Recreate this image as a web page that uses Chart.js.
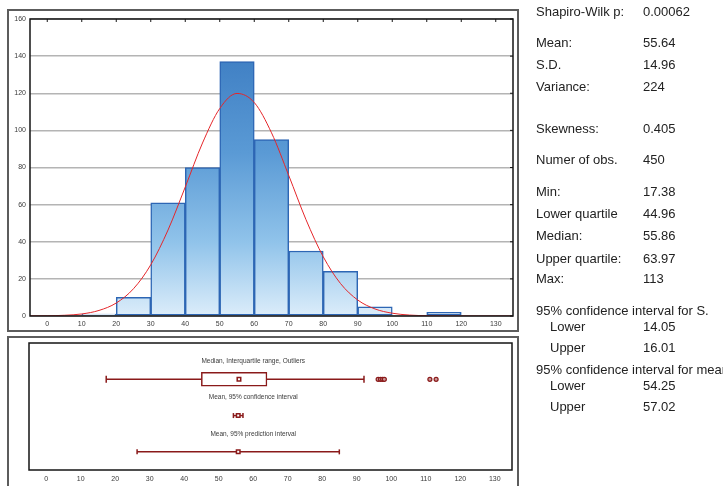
<!DOCTYPE html>
<html>
<head>
<meta charset="utf-8">
<title>Distribution summary</title>
<script src="https://cdn.jsdelivr.net/npm/chart.js@4.4.1/dist/chart.umd.min.js"></script>
<style>
  html, body { margin: 0; padding: 0; background: #fff; width: 723px; height: 486px; overflow: hidden; }
  .frame { position: absolute; border: 2px solid #5c5c5c; box-sizing: border-box; }
  #histFrame { left: 7px; top: 9px; width: 512px; height: 323px; }
  #boxFrame { left: 7px; top: 336px; width: 512px; height: 170px; }
  #histWrap { position: absolute; left: 0; top: 0; width: 520px; height: 334px; }
  #boxWrap { position: absolute; left: 0; top: 336px; width: 520px; height: 150px; }
  #stats { position: absolute; left: 0; top: 0; width: 723px; height: 486px;
           font-family: "Liberation Sans", Arial, sans-serif; font-size: 13px; color: #222; }
  #stats div { position: absolute; white-space: nowrap; line-height: 14px; }
</style>
</head>
<body>
<div class="frame" id="histFrame"></div>
<div class="frame" id="boxFrame"></div>
<div id="histWrap"><canvas id="hist"></canvas></div>
<div id="boxWrap"><canvas id="box"></canvas></div>
<div id="stats"></div>

<script>
// ---- data ----
const binStarts = [10, 20, 30, 40, 50, 60, 70, 80, 90, 100, 110];
const binCounts = [1, 10, 61, 80, 137, 95, 35, 24, 5, 0, 2];
const binWidth = 10;

// fitted normal curve, read every 5 units
const curveX = [-5, 0, 5, 10, 15, 20, 25, 30, 35, 40, 45, 50, 55, 60, 65, 70,
                75, 80, 85, 90, 95, 100, 105, 110, 115, 120, 125, 130, 135];
const curveY = [0.03, 0.12, 0.39, 1.1, 3.0, 7.0, 14.7, 27.6, 46.3, 69.5, 93.2, 111.8, 119.9, 115.0, 98.7, 75.7,
                51.9, 31.9, 17.5, 8.6, 3.8, 1.5, 0.5, 0.16, 0.04, 0.01, 0, 0, 0];

const xTicks = [0, 10, 20, 30, 40, 50, 60, 70, 80, 90, 100, 110, 120, 130];
const histYTicks = [0, 20, 40, 60, 80, 100, 120, 140, 160];

// box plot rows
const boxQ1 = 44.96, boxMedian = 55.86, boxQ3 = 63.97;
const whiskerLow = 17.38, whiskerHigh = 92.1;
const outliers = [96.2, 96.9, 97.5, 98.0, 111.2, 113];
const meanValue = 55.64;
const meanCI = [54.25, 57.02];
const predInterval = [26.33, 84.95];
const rowLabels = ["Median, Interquartile range, Outliers", "Mean, 95% confidence interval", "Mean, 95% prediction interval"];

// summary table
const statLabels = ["Shapiro-Wilk p:", "Mean:", "S.D.", "Variance:", "Skewness:", "Numer of obs.",
                    "Min:", "Lower quartile", "Median:", "Upper quartile:", "Max:",
                    "95% confidence interval for S.", "Lower", "Upper",
                    "95% confidence interval for mean", "Lower", "Upper"];
const statValues = ["0.00062", "55.64", "14.96", "224", "0.405", "450",
                    "17.38", "44.96", "55.86", "63.97", "113",
                    "", "14.05", "16.01",
                    "", "54.25", "57.02"];

// ---- layout ----
const statRowY = [12, 43, 65, 87, 129, 160, 192, 214, 236, 259, 279, 311, 327, 348, 370, 386, 407];
const statIndent = [0, 0, 0, 0, 0, 0, 0, 0, 0, 0, 0, 0, 1, 1, 0, 1, 1];
const rowY = [2, 4, 6];        // box, CI, PI rows on the 0..7 band axis
const rowTextY = [1, 3, 5];
const rowTextX = 60;

const darkRed = "#8a1a1a";
Chart.defaults.font.family = '"Liberation Sans", Arial, sans-serif';
Chart.defaults.color = "#3a3a3a";
Chart.defaults.animation = false;

// stats panel
const stats = document.getElementById("stats");
statLabels.forEach((lab, i) => {
  const l = document.createElement("div");
  l.textContent = lab;
  l.style.left = (statIndent[i] ? 550 : 536) + "px";
  l.style.top = (statRowY[i] - 7) + "px";
  stats.appendChild(l);
  if (statValues[i]) {
    const v = document.createElement("div");
    v.textContent = statValues[i];
    v.style.left = "643px";
    v.style.top = (statRowY[i] - 7) + "px";
    stats.appendChild(v);
  }
});

function fixTicks(values) {
  return (scale) => { scale.ticks = values.map((v) => ({ value: v })); };
}

// border around plot area + inner ticks on top/right edges
const plotFrame = {
  id: "plotFrame",
  afterDatasetsDraw(chart, args, opts) {
    const { ctx, chartArea: a, scales } = chart;
    ctx.save();
    ctx.strokeStyle = "#151515";
    ctx.lineWidth = 1.5;
    ctx.strokeRect(a.left, a.top, a.right - a.left, a.bottom - a.top);
    if (opts.innerTicks) {
      ctx.lineWidth = 1;
      ctx.beginPath();
      scales.x.ticks.forEach((t) => {
        const px = scales.x.getPixelForValue(t.value);
        ctx.moveTo(px, a.top);
        ctx.lineTo(px, a.top + 3);
      });
      scales.y.ticks.forEach((t) => {
        const py = scales.y.getPixelForValue(t.value);
        ctx.moveTo(a.right, py);
        ctx.lineTo(a.right - 3, py);
      });
      ctx.stroke();
    }
    ctx.restore();
  }
};

// ========== HISTOGRAM ==========
const barData = binStarts
  .map((s, i) => ({ x: s + binWidth / 2, y: binCounts[i] }))
  .filter((d) => d.y > 0);

new Chart(document.getElementById("hist"), {
  type: "bar",
  data: {
    datasets: [
      {
        type: "line",
        data: curveX.map((x, i) => ({ x, y: curveY[i] })),
        borderColor: "#e5262a",
        borderWidth: 1,
        pointRadius: 0,
        cubicInterpolationMode: "monotone",
        order: 0,
      },
      {
        type: "bar",
        data: barData,
        backgroundColor: (c) => {
          const area = c.chart.chartArea;
          if (!area) return "#6fa8dc";
          const g = c.chart.ctx.createLinearGradient(0, area.top, 0, area.bottom);
          g.addColorStop(0, "#3575bd");
          g.addColorStop(0.45, "#5a9ad5");
          g.addColorStop(0.75, "#90c3ea");
          g.addColorStop(1, "#dcedfa");
          return g;
        },
        borderColor: "#2d66b4",
        borderWidth: 1.5,
        borderSkipped: false,
        barPercentage: 1,
        categoryPercentage: 1,
        order: 1,
      },
    ],
  },
  options: {
    responsive: true,
    maintainAspectRatio: false,
    layout: { padding: { top: 19, right: 7, left: 0, bottom: 0 } },
    plugins: { legend: { display: false }, tooltip: { enabled: false }, plotFrame: { innerTicks: true } },
    scales: {
      x: {
        type: "linear",
        min: -5,
        max: 135,
        offset: false,
        afterBuildTicks: fixTicks(xTicks),
        afterFit: (s) => { s.height = 18; },
        grid: { display: false, drawTicks: false, offset: false },
        border: { display: false },
        ticks: { font: { size: 7 }, padding: 4, maxRotation: 0 },
      },
      y: {
        min: 0,
        max: 160,
        afterBuildTicks: fixTicks(histYTicks),
        afterFit: (s) => { s.width = 30; },
        grid: { color: "#b4b4b4", lineWidth: 1.5, drawTicks: false },
        border: { display: false },
        ticks: { font: { size: 7 }, padding: 4 },
      },
    },
  },
  plugins: [plotFrame],
});

// ========== BOX PLOT PANEL ==========
const rowText = {
  id: "rowText",
  afterDatasetsDraw(chart) {
    const { ctx, scales } = chart;
    ctx.save();
    ctx.font = '6.5px "Liberation Sans", Arial, sans-serif';
    ctx.fillStyle = "#3a3a3a";
    ctx.textAlign = "center";
    ctx.textBaseline = "middle";
    rowLabels.forEach((t, i) => {
      ctx.fillText(t, scales.x.getPixelForValue(rowTextX), scales.y.getPixelForValue(rowTextY[i]));
    });
    ctx.restore();
  }
};

const lineStyle = {
  type: "line",
  borderColor: darkRed,
  borderWidth: 1.5,
  pointStyle: "line",
  rotation: 90,
  pointBorderColor: darkRed,
  pointBorderWidth: 1.5,
  order: 1,
};
const markerStyle = {
  type: "line",
  showLine: false,
  pointStyle: "rect",
  pointRadius: 2.5,
  pointBackgroundColor: "#fff",
  pointBorderColor: darkRed,
  pointBorderWidth: 1.5,
  order: 0,
};

new Chart(document.getElementById("box"), {
  type: "line",
  data: {
    datasets: [
      {
        type: "bar",
        indexAxis: "y",
        data: [{ x: [boxQ1, boxQ3], y: rowY[0] }],
        backgroundColor: "#fff",
        borderColor: darkRed,
        borderWidth: 1.5,
        borderSkipped: false,
        barThickness: 14,
        order: 2,
      },
      { ...lineStyle, data: [{ x: whiskerLow, y: rowY[0] }, { x: boxQ1, y: rowY[0] }], pointRadius: [3.5, 0] },
      { ...lineStyle, data: [{ x: boxQ3, y: rowY[0] }, { x: whiskerHigh, y: rowY[0] }], pointRadius: [0, 3.5] },
      { ...markerStyle, data: [{ x: boxMedian, y: rowY[0] }] },
      {
        ...markerStyle,
        data: outliers.map((v) => ({ x: v, y: rowY[0] })),
        pointStyle: "circle",
        pointRadius: 2,
        pointBackgroundColor: "#c99",
        pointBorderWidth: 1.2,
      },
      { ...lineStyle, data: meanCI.map((v) => ({ x: v, y: rowY[1] })), pointRadius: 2.5 },
      { ...markerStyle, data: [{ x: meanValue, y: rowY[1] }] },
      { ...lineStyle, data: predInterval.map((v) => ({ x: v, y: rowY[2] })), pointRadius: 2.5 },
      { ...markerStyle, data: [{ x: meanValue, y: rowY[2] }] },
    ],
  },
  options: {
    responsive: true,
    maintainAspectRatio: false,
    layout: { padding: { top: 7, right: 8, left: 29, bottom: 0 } },
    plugins: { legend: { display: false }, tooltip: { enabled: false }, plotFrame: { innerTicks: false } },
    scales: {
      x: {
        type: "linear",
        min: -5,
        max: 135,
        offset: false,
        afterBuildTicks: fixTicks(xTicks),
        afterFit: (s) => { s.height = 16; },
        grid: { display: false, drawTicks: false },
        border: { display: false },
        ticks: { font: { size: 7 }, padding: 5, maxRotation: 0 },
      },
      y: {
        type: "linear",
        min: 0,
        max: 7,
        reverse: true,
        offset: false,
        display: false,
      },
    },
  },
  plugins: [plotFrame, rowText],
});
</script>
</body>
</html>
